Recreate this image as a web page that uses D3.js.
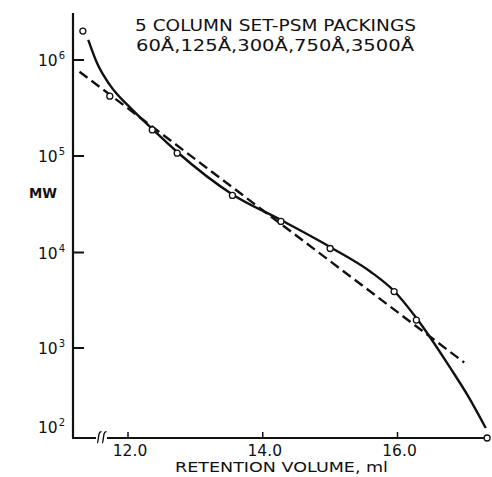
<!DOCTYPE html>
<html>
<head>
<meta charset="utf-8">
<script src="https://cdn.jsdelivr.net/npm/d3@7"></script>
<style>
  html, body { margin: 0; padding: 0; background: #fff; }
  svg { display: block; }
  text { font-family: "DejaVu Sans", sans-serif; fill: #111; }
</style>
</head>
<body>
<svg id="chart" width="492" height="477"></svg>
<script>
// Calibration standards: retention volume (ml) vs molecular weight
const standardVolume = [11.33, 11.73, 12.36, 12.73, 13.55, 14.27, 15.00, 15.95, 16.28, 17.33];
const standardMW     = [2.0e6, 4.2e5, 1.87e5, 1.07e5, 3.9e4, 2.1e4, 1.1e4, 3.9e3, 1.96e3, 1.0e2];

// Hand-drawn calibration curve through the standards
const curveVolume = [11.41, 11.54, 11.73, 12.07, 12.36, 12.73, 13.55, 14.27, 15.00, 15.60, 15.95, 16.28, 16.79, 17.05, 17.31];
const curveMW     = [1.62e6, 9.3e5, 5.5e5, 3.0e5, 1.91e5, 1.1e5, 4.0e4, 2.17e4, 1.14e4, 6.3e3, 3.95e3, 2.06e3, 5.9e2, 2.9e2, 1.29e2];

// Linear (log-MW) fit endpoints
const fitVolume = [11.28, 16.99];
const fitMW     = [7.55e5, 6.9e2];

// Axis ticks
const xTicks = [12, 14, 16];
const xTickLabels = ["12.0", "14.0", "16.0"];
const yTicks = [1e2, 1e3, 1e4, 1e5, 1e6];
const yExponents = ["2", "3", "4", "5", "6"];

const titleLines = ["5 COLUMN SET-PSM PACKINGS", "60Å,125Å,300Å,750Å,3500Å"];

const svg = d3.select("#chart");

const x = d3.scaleLinear().domain([12, 16]).range([128, 397.5]);
// log axis as ruled on the original graph paper
const y = d3.scaleLog()
  .domain([1e2, 1e3, 1e4, 1e5, 1e6])
  .range([438, 348, 252.5, 156, 60]);

const axisX0 = 73, axisY0 = 438;

// y axis line
svg.append("line")
  .attr("x1", axisX0).attr("x2", axisX0)
  .attr("y1", 13).attr("y2", axisY0)
  .attr("stroke", "#111").attr("stroke-width", 2.2);

// x axis line with break
const xEnd = 490;
svg.append("line")
  .attr("x1", axisX0 - 1).attr("x2", 96)
  .attr("y1", axisY0).attr("y2", axisY0)
  .attr("stroke", "#111").attr("stroke-width", 2);
svg.append("line")
  .attr("x1", 107).attr("x2", xEnd)
  .attr("y1", axisY0).attr("y2", axisY0)
  .attr("stroke", "#111").attr("stroke-width", 2);
[97, 102].forEach(bx => {
  svg.append("path")
    .attr("d", `M${bx},443 C${bx + 1},443 ${bx + 1},441 ${bx + 1.5},437 S${bx + 3},431 ${bx + 4.5},432`)
    .attr("fill", "none").attr("stroke", "#111").attr("stroke-width", 1.4);
});

// y ticks (inward)
svg.selectAll(".ytick").data(yTicks.slice(1)).join("line")
  .attr("x1", axisX0).attr("x2", axisX0 + 11)
  .attr("y1", d => y(d)).attr("y2", d => y(d))
  .attr("stroke", "#111").attr("stroke-width", 2);

// y tick labels: 10 with superscript exponent
const yl = svg.selectAll(".ylab").data(yTicks).join("text")
  .attr("x", 38)
  .attr("y", d => y(d) + (d === 1e2 ? -5 : 6))
  .attr("font-size", 15.5);
yl.append("tspan").text("10");
yl.append("tspan")
  .attr("dy", -7).attr("dx", 1)
  .attr("font-size", 10)
  .text((d, i) => yExponents[i]);

// x ticks (upward)
svg.selectAll(".xtick").data(xTicks).join("line")
  .attr("x1", d => x(d)).attr("x2", d => x(d))
  .attr("y1", axisY0).attr("y2", axisY0 - 6)
  .attr("stroke", "#111").attr("stroke-width", 1.5);

svg.selectAll(".xlab").data(xTicks).join("text")
  .attr("x", d => x(d) + 2)
  .attr("y", 456)
  .attr("text-anchor", "middle")
  .attr("font-size", 15.5)
  .text((d, i) => xTickLabels[i]);

// axis titles
svg.append("text")
  .attr("x", 175).attr("y", 472)
  .attr("font-size", 14)
  .attr("textLength", 213).attr("lengthAdjust", "spacingAndGlyphs")
  .text("RETENTION VOLUME, ml");

svg.append("text")
  .attr("x", 29).attr("y", 198)
  .attr("font-size", 14.5)
  .attr("font-weight", "bold")
  .attr("textLength", 28).attr("lengthAdjust", "spacingAndGlyphs")
  .text("MW");

// chart title
svg.append("text")
  .attr("x", 135).attr("y", 31)
  .attr("font-size", 15)
  .attr("textLength", 281).attr("lengthAdjust", "spacingAndGlyphs")
  .text(titleLines[0]);
svg.append("text")
  .attr("x", 136).attr("y", 51)
  .attr("font-size", 15)
  .attr("textLength", 278).attr("lengthAdjust", "spacingAndGlyphs")
  .text(titleLines[1]);

// dashed linear fit
const line = d3.line().x(d => x(d[0])).y(d => y(d[1]));
svg.append("path")
  .datum(d3.zip(fitVolume, fitMW))
  .attr("d", line)
  .attr("fill", "none")
  .attr("stroke", "#111").attr("stroke-width", 2.4)
  .attr("stroke-dasharray", "10,5");

// solid calibration curve
svg.append("path")
  .datum(d3.zip(curveVolume, curveMW))
  .attr("d", line.curve(d3.curveMonotoneX))
  .attr("fill", "none")
  .attr("stroke", "#111").attr("stroke-width", 2.4);

// standards
svg.selectAll(".pt").data(d3.zip(standardVolume, standardMW)).join("circle")
  .attr("cx", d => x(d[0])).attr("cy", d => y(d[1]))
  .attr("r", 3)
  .attr("fill", "#fff").attr("stroke", "#111").attr("stroke-width", 1.3);
</script>
</body>
</html>
